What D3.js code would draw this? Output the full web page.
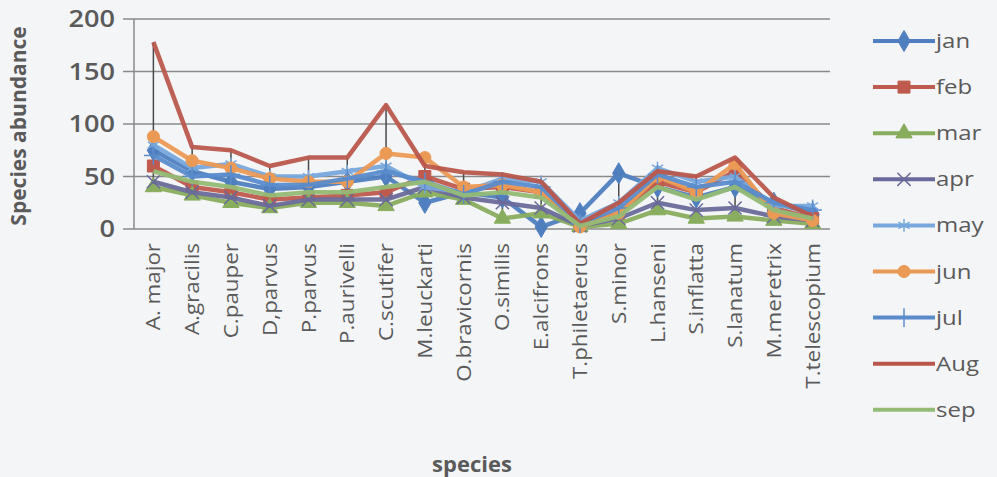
<!DOCTYPE html>
<html><head><meta charset="utf-8">
<script src="https://cdn.jsdelivr.net/npm/d3@7"></script>
<style>
html,body{margin:0;padding:0;background:#f4f5f7;}
svg{display:block;}
text{font-family:"Open Sans","Noto Sans",sans-serif;}
</style></head>
<body>
<svg id="c" width="997" height="477"></svg>
<script>
const species = ["A. major","A.gracilis","C.pauper","D,parvus","P.parvus","P.aurivelli","C.scutifer","M.leuckarti","O.bravicornis","O.similis","E.alcifrons","T.philetaerus","S.minor","L.hanseni","S.inflatta","S.lanatum","M.meretrix","T.telescopium"];
const seriesNames = ["jan","feb","mar","apr","may","jun","jul","Aug","sep"];
const jan = [75, 55, 45, 38, 40, 45, 50, 25, 35, 30, 2, 15, 53, 40, 30, 40, 25, 15];
const feb = [60, 40, 35, 28, 30, 32, 35, 50, 38, 40, 35, 5, 15, 45, 35, 55, 20, 10];
const mar = [40, 32, 25, 20, 25, 25, 22, 35, 28, 10, 15, 2, 5, 18, 10, 12, 8, 5];
const apr = [45, 35, 30, 22, 28, 28, 28, 40, 30, 25, 20, 3, 10, 25, 18, 20, 12, 8];
const may = [80, 58, 62, 50, 50, 55, 60, 40, 35, 48, 45, 8, 25, 58, 45, 50, 22, 22];
const jun = [88, 65, 58, 48, 45, 45, 72, 68, 40, 42, 35, 2, 15, 50, 35, 62, 15, 8];
const jul = [70, 50, 52, 42, 42, 48, 55, 45, 33, 45, 40, 5, 20, 52, 40, 45, 25, 18];
const aug = [178, 78, 75, 60, 68, 68, 118, 60, 54, 52, 45, 5, 25, 55, 50, 68, 30, 12];
const sep = [55, 45, 40, 32, 35, 35, 40, 45, 32, 35, 30, 3, 12, 40, 28, 40, 18, 10];
const yTicks = [0, 50, 100, 150, 200];

const seriesValues = [jan, feb, mar, apr, may, jun, jul, aug, sep];
const colors = ["#4f7fbf","#bf5a4e","#88ad5e","#6a6a9a","#78a8dc","#eb9a55","#5a8ccc","#b9574c","#93bb75"];
const markers = ["diamond","square","triangle","x","star","circle","plus",null,null];

const svg = d3.select("#c");
const L = 134, R = 832, T = 19, B = 229;
const x = d3.scalePoint().domain(species).range([L, R]).padding(0.5);
const y = d3.scaleLinear().domain([0, 200]).range([B, T]);

// gridlines
svg.append("g").selectAll("line").data(yTicks).join("line")
  .attr("x1", L - 11).attr("x2", R - 2)
  .attr("y1", d => y(d)).attr("y2", d => y(d))
  .attr("stroke", "#8a8a8a").attr("stroke-width", 1.5);
// y axis line
svg.append("line").attr("x1", L).attr("x2", L).attr("y1", T).attr("y2", B)
  .attr("stroke", "#8a8a8a").attr("stroke-width", 1.5);

// y tick labels
svg.append("g").selectAll("text").data(yTicks).join("text")
  .attr("transform", d => `translate(115,${y(d) + 8}) scale(1.18,1)`)
  .attr("text-anchor", "end").attr("fill", "#5a5a5a").attr("font-size", 23).attr("font-weight", 600)
  .text(d => d);

// x tick labels
svg.append("g").selectAll("text").data(species).join("text")
  .attr("transform", d => `translate(${x(d) + 7},243) rotate(-90) scale(1.12,1)`)
  .attr("text-anchor", "end").attr("fill", "#5a5a5a").attr("font-size", 20)
  .text(d => d);

// axis titles
svg.append("text").attr("transform", "translate(26,126) rotate(-90)")
  .attr("text-anchor", "middle").attr("fill", "#5a5a5a").attr("font-size", 21).attr("font-weight", 700)
  .text("Species abundance");
svg.append("text").attr("x", 472).attr("y", 472)
  .attr("text-anchor", "middle").attr("fill", "#5a5a5a").attr("font-size", 22).attr("font-weight", 700)
  .text("species");

// high-low lines
svg.append("g").selectAll("line").data(species).join("line")
  .attr("x1", d => x(d)).attr("x2", d => x(d))
  .attr("y1", (d, i) => y(d3.max(seriesValues, s => s[i])))
  .attr("y2", (d, i) => y(d3.min(seriesValues, s => s[i])))
  .attr("stroke", "#4a4a4a").attr("stroke-width", 1.5);

function markerPath(type, size) {
  const s = size;
  switch (type) {
    case "diamond": return d3.symbol(d3.symbolDiamond, s * s * 0.9)();
    case "square": return d3.symbol(d3.symbolSquare, s * s)();
    case "triangle": return d3.symbol(d3.symbolTriangle, s * s * 0.8)();
    case "circle": return d3.symbol(d3.symbolCircle, s * s * 0.8)();
    case "x": return d3.symbol(d3.symbolTimes, s * s * 0.8)();
    case "star": return d3.symbol(d3.symbolAsterisk, s * s * 0.8)();
    case "plus": return d3.symbol(d3.symbolCross2 || d3.symbolPlus, s * s * 0.8)();
  }
  return null;
}
function drawMarker(g, type, color, cx, cy, size) {
  if (!type) return;
  const p = markerPath(type, size);
  const filled = ["diamond","square","triangle","circle"].includes(type);
  g.append("path").attr("d", p).attr("transform", `translate(${cx},${cy})`)
    .attr("fill", filled ? color : "none").attr("stroke", color).attr("stroke-width", filled ? 1 : 1.5);
}

const line = d3.line().x((d, i) => x(species[i])).y(d => y(d));
const plot = svg.append("g");
seriesValues.forEach((vals, k) => {
  const g = plot.append("g");
  g.append("path").datum(vals).attr("d", line).attr("fill", "none")
    .attr("stroke", colors[k]).attr("stroke-width", 4.5).attr("stroke-linejoin", "round").attr("opacity", 0.95);
  vals.forEach((v, i) => drawMarker(g, markers[k], colors[k], x(species[i]), y(v), 12));
});

// legend
const lg = svg.append("g");
seriesNames.forEach((n, k) => {
  const cy = 41 + k * 46.1;
  lg.append("line").attr("x1", 873).attr("x2", 935).attr("y1", cy).attr("y2", cy)
    .attr("stroke", colors[k]).attr("stroke-width", 4);
  drawMarker(lg, markers[k], colors[k], 904, cy, 12);
  lg.append("text").attr("transform", `translate(936,${cy + 7}) scale(1.2,1)`)
    .attr("fill", "#5a5a5a").attr("font-size", 20).text(n);
});
</script>
</body></html>
